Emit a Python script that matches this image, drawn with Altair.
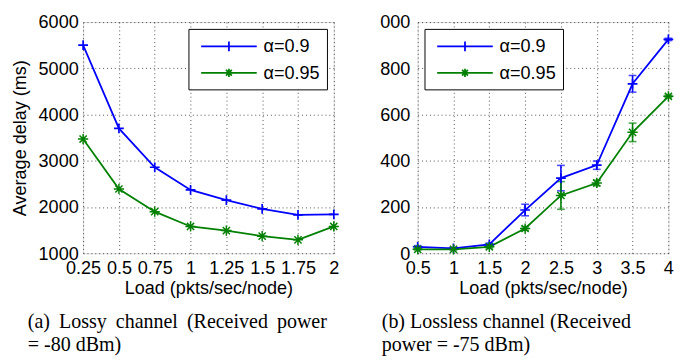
import altair as alt
import pandas as pd

series_names = ["α=0.9", "α=0.95"]
colors = ["#0000ff", "#008000"]

# (a) Lossy channel
left_load = [0.25, 0.5, 0.75, 1.0, 1.25, 1.5, 1.75, 2.0]
left_a09 = [5500, 3700, 2860, 2370, 2150, 1960, 1830, 1840]
left_a095 = [3470, 2390, 1900, 1580, 1490, 1370, 1290, 1580]

# (b) Lossless channel
right_load = [0.5, 1.0, 1.5, 2.0, 2.5, 3.0, 3.5, 4.0]
right_a09 = [28, 21, 38, 187, 325, 381, 733, 925]
right_a09_err = [5, 4, 6, 25, 55, 18, 36, 5]
right_a095 = [17, 17, 28, 107, 250, 304, 523, 679]
right_a095_err = [3, 3, 5, 8, 60, 12, 40, 5]

left_yticks = [1000, 2000, 3000, 4000, 5000, 6000]
right_yticks = [0, 200, 400, 600, 800, 1000]

left_caption = ["(a) \u2009Lossy \u2009channel \u2009(Received \u2009power", "= -80 dBm)"]
right_caption = ["(b) Lossless channel (Received", "power = -75 dBm)"]

PLUS = "M-1,0H1M0,-1V1"
STAR = "M-1,0H1M0,-1V1M-0.7,-0.7L0.7,0.7M-0.7,0.7L0.7,-0.7"
LEG_PLUS = "M-0.5,0H5.2M2.35,-0.5V0.5"
LEG_STAR = "M-0.5,0H5.2M2.35,-0.42V0.42M2.05,-0.3L2.65,0.3M2.05,0.3L2.65,-0.3"

SANS = "Liberation Sans"
SERIF = "Liberation Serif"
FS = 18.5


def make_df(load, a, b, ea=None, eb=None):
    rows = []
    for i, x in enumerate(load):
        e1 = ea[i] if ea else 0
        e2 = eb[i] if eb else 0
        rows.append(dict(load=x, delay=a[i], series=series_names[0], lo=a[i] - e1, hi=a[i] + e1))
        rows.append(dict(load=x, delay=b[i], series=series_names[1], lo=b[i] - e2, hi=b[i] + e2))
    return pd.DataFrame(rows)


def panel(df, xdom, xticks, ydom, yticks, ytitle, legend_orient, caption, cap_dx,
          ylabelpad=5, yexpr=None, errbars=False):
    axis_common = dict(
        labelFont=SANS, labelFontSize=FS, titleFont=SANS, titleFontSize=FS,
        titleFontWeight="normal", labelColor="#000", titleColor="#000",
        grid=True, gridColor="#000", gridDash=[1, 3], gridOpacity=0.7,
        domain=False, ticks=False,
    )
    x = alt.X("load:Q", scale=alt.Scale(domain=xdom, nice=False, zero=False),
              axis=alt.Axis(values=xticks, title="Load (pkts/sec/node)", titlePadding=2,
                            labelPadding=6, labelFlush=False,
                            labelExpr="format(datum.value, '.2~f')", **axis_common))
    yaxis_kw = dict(values=yticks, labelFlush=False, format="d", labelPadding=ylabelpad, **axis_common)
    if yexpr:
        yaxis_kw["labelExpr"] = yexpr
    if ytitle:
        yaxis_kw["title"] = ytitle
        yaxis_kw["titlePadding"] = 8.5
    else:
        yaxis_kw["title"] = None
    y = alt.Y("delay:Q", scale=alt.Scale(domain=ydom, nice=False, zero=False), axis=alt.Axis(**yaxis_kw))
    cscale = alt.Scale(domain=series_names, range=colors)
    leg = alt.Legend(orient=legend_orient, offset=7, title=None, strokeColor="black", fillColor="white",
                     padding=7, symbolSize=400, symbolStrokeWidth=1.8, labelFont=SANS,
                     labelFontSize=FS, labelColor="#000", labelOffset=48, rowPadding=6)
    color = alt.Color("series:N", scale=cscale, legend=leg)
    base = alt.Chart(df)

    layers = []
    # invisible layer that only carries the legend symbols (line + marker)
    layers.append(base.mark_point(opacity=0, filled=False, clip=False).encode(
        x=x, y=y, color=color,
        shape=alt.Shape("series:N", scale=alt.Scale(domain=series_names, range=[LEG_PLUS, LEG_STAR]),
                        legend=leg),
    ))
    if errbars:
        layers.append(base.mark_rule(strokeWidth=1.6, clip=False).encode(
            x=x, y=alt.Y("lo:Q"), y2="hi:Q", color=color))
        layers.append(base.mark_tick(orient="horizontal", size=8, thickness=1.6, clip=False).encode(
            x=x, y=alt.Y("lo:Q"), color=color))
        layers.append(base.mark_tick(orient="horizontal", size=8, thickness=1.6, clip=False).encode(
            x=x, y=alt.Y("hi:Q"), color=color))
    layers.append(base.mark_line(strokeWidth=1.8, clip=False).encode(x=x, y=y, color=color))
    layers.append(base.transform_filter(alt.datum.series == series_names[0]).mark_point(
        shape=PLUS, size=100, strokeWidth=1.7, filled=False, opacity=1, clip=False).encode(x=x, y=y, color=color))
    layers.append(base.transform_filter(alt.datum.series == series_names[1]).mark_point(
        shape=STAR, size=110, strokeWidth=1.5, filled=False, opacity=1, clip=False).encode(x=x, y=y, color=color))
    return alt.layer(*layers).properties(
        width=257, height=237,
        title=alt.TitleParams(text=caption, orient="bottom", anchor="start", font=SERIF, fontSize=20.5,
                              fontWeight="normal", color="#000", lineHeight=23, offset=16, dx=cap_dx),
    )


left = panel(make_df(left_load, left_a09, left_a095), [0.25, 2], left_load, [1000, 6000], left_yticks,
             "Average delay (ms)", "top-right", left_caption, cap_dx=17)
right = panel(make_df(right_load, right_a09, right_a095, right_a09_err, right_a095_err), [0.5, 4], right_load,
              [0, 1000], right_yticks, None, "top-left", right_caption, cap_dx=2, ylabelpad=8,
              yexpr="datum.value == 1000 ? '000' : format(datum.value, 'd')", errbars=True)

chart = alt.hconcat(left, right, spacing=31).resolve_legend(
    color="independent", shape="independent").properties(
    padding={"left": 2, "top": 0, "right": 0, "bottom": 0}).configure_view(
    stroke="black", strokeWidth=1).configure(background="white")

chart.save("out.html", embed_options={"renderer": "svg", "actions": False})
